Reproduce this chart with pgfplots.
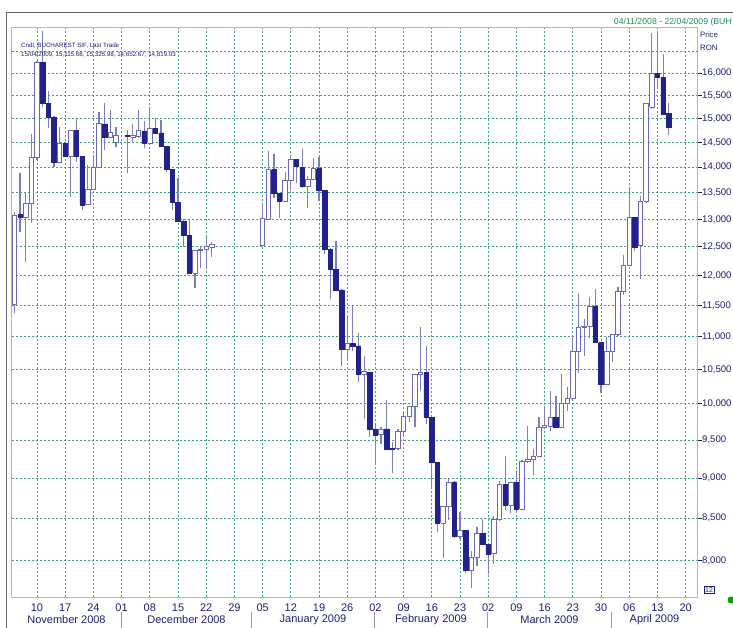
\documentclass[border=0pt]{standalone}
\usepackage{fontspec}
\setmainfont{Liberation Sans}
\usepackage{pgfplots}
\usepackage{pgfplotstable}
\pgfplotsset{compat=1.18}
\definecolor{navytxt}{RGB}{30,30,120}
\definecolor{candledark}{RGB}{34,34,140}
\definecolor{candleline}{RGB}{105,105,185}
\definecolor{wickc}{RGB}{125,125,195}
\definecolor{gridc}{RGB}{60,165,125}
\definecolor{framec}{RGB}{140,205,175}
\definecolor{datec}{RGB}{40,140,90}
\definecolor{sepc}{RGB}{150,150,190}

% trading-day index (0 = Mon 3 Nov 2008), open, high, low, close
\pgfplotstableread{
x o h l c
1 11510 13140 11380 13080
3 13040 13500 12230 13290
4 13290 14680 12940 14190
5 14190 16280 14150 16240
9 14090 14820 14080 14480
11 14220 14760 13410 14750
14 13270 14050 13260 13560
15 13560 14220 13550 14000
16 14000 15140 13990 14890
18 14600 15190 14590 14710
19 14510 14820 14400 14640
22 14610 14890 14480 14650
23 14620 15180 14600 14740
25 14480 15210 14470 14800
33 12040 12440 11790 12430
34 12430 12500 12130 12460
35 12450 12670 12140 12500
36 12490 12580 12320 12540
45 12520 13260 12510 13020
46 13000 14320 12990 13950
49 13340 13910 13330 13730
50 13730 14240 13550 14160
53 13620 13830 13210 13760
54 13760 14180 13750 13970
60 10810 11330 10630 10900
63 10430 10700 9790 10470
66 9570 9680 9440 9650
69 9380 9650 9370 9610
70 9610 9880 9550 9820
71 9820 9970 9750 9960
72 9960 10440 9680 10430
73 10430 11160 10180 10460
77 8440 8650 8030 8640
78 8640 9000 8480 8950
80 8280 8570 8250 8350
82 7890 8110 7700 8040
83 8040 8390 7940 8320
86 8080 8530 7970 8480
87 8480 8960 8470 8920
89 8660 8950 8560 8940
91 8610 9230 8600 9210
92 9210 9690 9200 9240
93 9240 9380 9040 9280
94 9280 9820 9270 9670
95 9670 9970 9660 9700
96 9690 10180 9620 9810
98 9670 10440 9660 10000
99 10000 10250 9900 10080
100 10080 11030 10070 10770
101 10770 11700 10450 11150
102 11150 11280 10710 11170
103 11170 11640 10980 11480
106 10280 10990 10270 10770
107 10770 11050 10620 11030
108 11030 11800 11020 11730
109 11730 12360 11680 12180
110 12180 13580 12170 13040
112 12520 13440 11940 13340
113 13340 15330 13300 15320
114 15250 16930 15200 16000
}\uptab

\pgfplotstableread{
x o h l c
2 13090 13880 12760 13040
6 16240 16990 15250 15320
7 15320 15590 14810 15030
8 15030 15050 14000 14090
10 14480 14500 14200 14220
12 14750 15010 14100 14220
13 14220 14230 13180 13270
17 14890 15330 14340 14600
21 14650 14760 13880 14620
24 14740 14940 14390 14480
26 14800 15010 14690 14700
27 14700 14960 14400 14420
28 14420 14430 13900 13950
29 13950 13960 13170 13320
30 13320 13790 12950 12960
31 12960 13000 12500 12710
32 12710 13000 12030 12040
47 13950 14260 13390 13480
48 13480 13490 13020 13340
51 14160 14170 13680 14010
52 14000 14370 13590 13620
55 13970 14210 13350 13550
56 13550 13560 12380 12460
57 12460 12480 11600 12110
58 12110 12600 11750 11760
59 11760 11770 10560 10810
61 10900 11500 10780 10860
62 10860 11060 10310 10430
64 10460 10470 9540 9650
65 9650 9700 9170 9570
67 9650 10060 9360 9370
68 9390 9470 9060 9370
74 10460 10850 9720 9810
75 9810 9820 8890 9200
76 9200 9210 8330 8440
79 8950 8960 8270 8280
81 8350 8360 7870 7890
84 8320 8490 8180 8190
85 8190 8200 7850 8080
88 8920 9280 8600 8660
90 8940 9100 8560 8610
97 9810 10110 9660 9670
104 11480 11780 10900 10910
105 10910 10920 10160 10280
111 13040 13050 12430 12500
115 16000 16930 15690 15900
116 15900 16450 15090 15100
117 15115.68 15326.98 14652.67 14819.03
}\downtab

\tikzset{
  wick/.style={draw=wickc, line width=1.2pt, mark=none},
  upbody/.style={draw=candleline, fill=white, line width=0.9pt, mark=none, line join=miter},
  downbody/.style={draw=candledark, fill=candledark, line width=0.6pt, mark=none, line join=miter},
}

\newcommand\drawcandles[2]{%
  \pgfplotstablegetrowsof{#1}%
  \pgfmathtruncatemacro{\lastrow}{\pgfplotsretval-1}%
  \pgfplotsforeachungrouped \i in {0,...,\lastrow}{%
    \pgfplotstablegetelem{\i}{x}\of#1\let\cx\pgfplotsretval
    \pgfplotstablegetelem{\i}{o}\of#1\let\co\pgfplotsretval
    \pgfplotstablegetelem{\i}{h}\of#1\let\ch\pgfplotsretval
    \pgfplotstablegetelem{\i}{l}\of#1\let\cl\pgfplotsretval
    \pgfplotstablegetelem{\i}{c}\of#1\let\cc\pgfplotsretval
    \pgfmathsetmacro{\xa}{\cx-0.4}%
    \pgfmathsetmacro{\xb}{\cx+0.4}%
    \edef\temp{\noexpand\addplot[wick] coordinates {(\cx,\cl) (\cx,\ch)};
      \noexpand\addplot[#2] coordinates {(\xa,\co) (\xb,\co) (\xb,\cc) (\xa,\cc) (\xa,\co)};}%
    \temp
  }%
}

\begin{document}
\begin{tikzpicture}
\useasboundingbox (0pt,0pt) rectangle (733pt,628pt);
\fill[white] (0pt,0pt) rectangle (733pt,628pt);
\draw[black!60, line width=1.5pt] (6.5pt,0pt) -- (6.5pt,615.3pt) -- (733pt,615.3pt);

\begin{axis}[
  at={(11.5pt,30.5pt)}, anchor=south west,
  scale only axis, width=686pt, height=569.8pt,
  xmin=0.48, xmax=122.1,
  ymode=log, ymin=7596, ymax=17071,
  axis line style={draw=framec, line width=1.5pt},
  xtick={5,10,...,120},
  xticklabels={10,17,24,01,08,15,22,29,05,12,19,26,02,09,16,23,02,09,16,23,30,06,13,20},
  xtick pos=bottom,
  xtick style={draw=none},
  xticklabel style={font=\fontsize{11}{11}\selectfont, text=navytxt, inner sep=1pt, yshift=-1pt},
  ytick={8000,8500,9000,9500,10000,10500,11000,11500,12000,12500,13000,13500,14000,14500,15000,15500,16000},
  yticklabels={{8,000},{8,500},{9,000},{9,500},{10,000},{10,500},{11,000},{11,500},{12,000},{12,500},{13,000},{13,500},{14,000},{14,500},{15,000},{15,500},{16,000}},
  extra y ticks={16500},
  extra y tick labels={},
  extra y tick style={grid=major, major tick length=0pt},
  ytick pos=right, yticklabel pos=right,
  tick align=outside, major tick length=4pt,
  ytick style={draw=navytxt, line width=0.8pt},
  yminorticks=false,
  yticklabel style={font=\fontsize{9.6}{9.6}\selectfont, text=navytxt, inner sep=0.5pt},
  grid=major,
  major grid style={draw=gridc, dash pattern=on 2pt off 2pt, line width=0.8pt},
  clip mode=individual,
]
\drawcandles{\uptab}{upbody}
\drawcandles{\downtab}{downbody}
\addplot[only marks, mark=diamond*, mark size=3pt, color=candledark] coordinates {(122.6,14819.03)};
\end{axis}

% legend text inside plot
\node[anchor=base west, inner sep=0, font=\fontsize{6.2}{6.2}\selectfont, text=navytxt] at (21pt,580.7pt) {Cndl, BUCHAREST SIF, Last Trade};
\node[anchor=base west, inner sep=0, font=\fontsize{6.2}{6.2}\selectfont, text=navytxt] at (21pt,571.5pt) {15/04/2009, 15,115.68, 15,326.98, 14,652.67, 14,819.03};
% date range
\node[anchor=base east, inner sep=0, font=\fontsize{8.7}{8.7}\selectfont, text=datec] at (732pt,603.5pt) {04/11/2008 - 22/04/2009 (BUH};
% price axis title
\node[anchor=base west, inner sep=0, font=\fontsize{7.8}{7.8}\selectfont, text=navytxt] at (700pt,590pt) {Price};
\node[anchor=base west, inner sep=0, font=\fontsize{7.8}{7.8}\selectfont, text=navytxt] at (700pt,577.5pt) {RON};
% months
\foreach \xm/\lab in {66.5/November 2008, 186.5/December 2008, 313/January 2009, 431/February 2009, 549.5/March 2009, 654.5/April 2009}{
  \node[font=\fontsize{11}{11}\selectfont, text=navytxt, inner sep=0] at (\xm pt,8pt) {\lab};
}
\foreach \xs in {121.6,251.3,374.7,487.5,611.6}{
  \draw[sepc, line width=1pt] (\xs pt,0pt) -- (\xs pt,16pt);
}
% small box and dot
\node[draw=navytxt, line width=0.6pt, inner sep=1pt, font=\fontsize{7}{7}\selectfont, text=navytxt] at (709pt,38pt) {12};
\fill[green!65!black] (731pt,28pt) circle (3.5pt);
\end{tikzpicture}
\end{document}
